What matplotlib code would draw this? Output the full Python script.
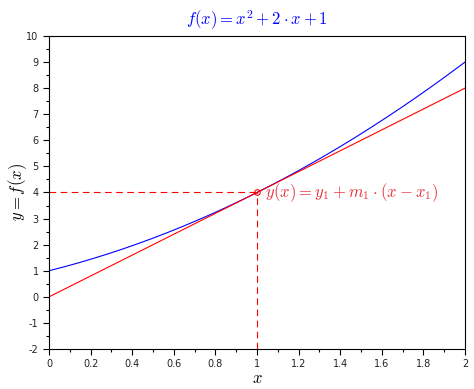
import numpy as np
import matplotlib
matplotlib.use("Agg")
import matplotlib.pyplot as plt
from matplotlib.ticker import MultipleLocator, FuncFormatter

plt.rcParams['mathtext.fontset'] = 'cm'

# curve samples
x_curve = [0.0, 0.2, 0.4, 0.6, 0.8, 1.0, 1.2, 1.4, 1.6, 1.8, 2.0]
y_curve = [1.0, 1.44, 1.96, 2.56, 3.24, 4.0, 4.84, 5.76, 6.76, 7.84, 9.0]
# tangent line end points
x_tan = [0.0, 2.0]
y_tan = [0.0, 8.0]
# point of tangency
x1, y1 = 1.0, 4.0

fig = plt.figure(figsize=(4.74, 3.89), dpi=100)
ax = fig.add_axes([0.1034, 0.1028, 0.981 - 0.1034, 0.9075 - 0.1028])

# smooth the curve through the read samples
coef = np.polyfit(x_curve, y_curve, 2)
xs = np.linspace(x_curve[0], x_curve[-1], 200)
ax.plot(xs, np.polyval(coef, xs), color='blue', lw=0.8)
ax.plot(x_tan, y_tan, color='red', lw=0.8)
ax.plot([0, x1], [y1, y1], color='red', lw=0.8, ls=(0, (6, 4)))
ax.plot([x1, x1], [-2, y1], color='red', lw=0.8, ls=(0, (6, 4)))
ax.plot([x1], [y1], marker='o', ms=4, mfc='none', mec='red', mew=0.8)
ax.text(1.04, 4.0, r'$y(x)=y_1+m_1\cdot(x-x_1)$', color='#e8303a',
        fontsize=12, va='center', ha='left')

ax.set_xlim(0, 2)
ax.set_ylim(-2, 10)
ax.xaxis.set_major_locator(MultipleLocator(0.2))
ax.xaxis.set_minor_locator(MultipleLocator(0.1))
ax.yaxis.set_major_locator(MultipleLocator(1))
ax.yaxis.set_minor_locator(MultipleLocator(0.5))
ax.tick_params(which='both', direction='out', top=False, right=False,
               labelsize=7, labelcolor='#222222')
ax.tick_params(which='major', length=4, width=0.8)
ax.tick_params(which='minor', length=2.5, width=0.8)
ax.xaxis.set_major_formatter(FuncFormatter(lambda v, p: f'{v:g}'))
ax.yaxis.set_major_formatter(FuncFormatter(lambda v, p: f'{v:g}'))

ax.set_title(r'$f(x)=x^2+2\cdot x+1$', color='blue', fontsize=12, pad=8)
ax.set_xlabel(r'$x$', fontsize=12, va='center')
ax.xaxis.set_label_coords(0.5, -0.092)
ax.set_ylabel(r'$y=f(x)$', fontsize=12, va='center')
ax.yaxis.set_label_coords(-0.075, 0.5)

fig.savefig('out.png', dpi=100)
